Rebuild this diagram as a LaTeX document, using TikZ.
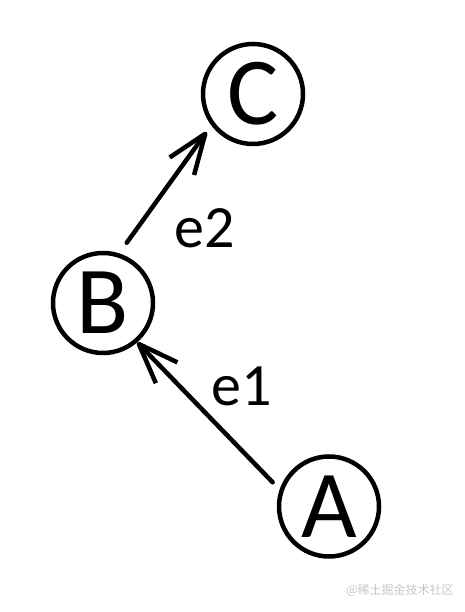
\documentclass[tikz,border=0pt]{standalone}
\usepackage{fontspec}
\setmainfont{Carlito}
\newfontfamily\cjk{Noto Sans CJK SC}
\usetikzlibrary{arrows.meta}

\begin{document}
\begin{tikzpicture}[
    x=1pt, y=1pt,
    vertex/.style={
        draw,
        circle,
        line width=4.5pt,
        minimum size=100pt,
        inner sep=0pt,
        font=\fontsize{96}{96}\selectfont
    },
    edge/.style={
        line width=4.5pt,
        line cap=round,
        -{Straight Barb[length=40pt, width=30pt, line join=round]}
    },
    elabel/.style={font=\fontsize{60}{60}\selectfont}
]
\useasboundingbox (0,0) rectangle (464,612);

% Vertices
\node[vertex] (C) at (253,518) {C};
\node[vertex] (B) at (103,309) {B};
\node[vertex] (A) at (329,105.5) {A};

% Edges
\draw[edge, shorten <=13pt, shorten >=8pt] (B.72) -- (C.217);
\draw[edge, shorten <=10pt] (A.161) -- (B.311);

\node[elabel] (e2) at (205,384) {e2};
\node[elabel] (e1) at (242,226) {e1};

% Watermark
\node[text=black!22, font=\cjk\fontsize{12}{12}\selectfont] (wm) at (400,22) {@稀土掘金技术社区};

\end{tikzpicture}
\end{document}
